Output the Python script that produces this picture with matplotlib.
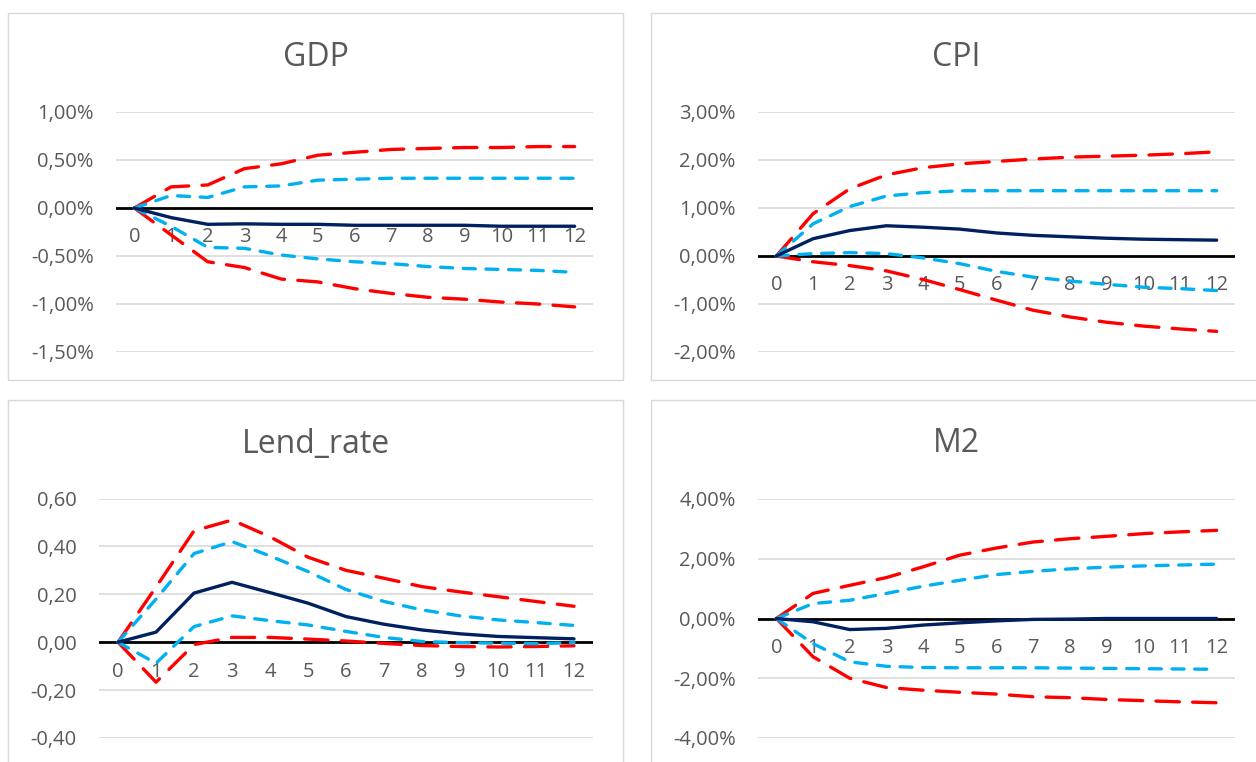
import matplotlib.pyplot as plt
from matplotlib.patches import Rectangle
from matplotlib.ticker import FuncFormatter

# Horizonte (periodos)
periodos = list(range(13))

# GDP (%)
gdp_central = [0, -0.10, -0.17, -0.165, -0.17, -0.17, -0.18, -0.18, -0.18, -0.18, -0.19, -0.19, -0.19]
gdp_blue_up = [0, 0.13, 0.11, 0.22, 0.23, 0.29, 0.30, 0.31, 0.31, 0.31, 0.31, 0.31, 0.31]
gdp_blue_lo = [0, -0.19, -0.41, -0.42, -0.49, -0.53, -0.56, -0.58, -0.61, -0.63, -0.64, -0.65, -0.67]
gdp_red_up = [0, 0.22, 0.24, 0.41, 0.46, 0.55, 0.58, 0.61, 0.62, 0.63, 0.63, 0.64, 0.64]
gdp_red_lo = [0, -0.28, -0.56, -0.62, -0.74, -0.77, -0.84, -0.89, -0.93, -0.95, -0.98, -1.00, -1.03]

# CPI (%)
cpi_central = [0, 0.36, 0.53, 0.63, 0.60, 0.56, 0.48, 0.43, 0.40, 0.37, 0.35, 0.34, 0.33]
cpi_blue_up = [0, 0.67, 1.03, 1.25, 1.32, 1.36, 1.36, 1.36, 1.36, 1.36, 1.36, 1.36, 1.36]
cpi_blue_lo = [0, 0.05, 0.07, 0.05, -0.04, -0.16, -0.32, -0.44, -0.52, -0.59, -0.65, -0.68, -0.72]
cpi_red_up = [0, 0.88, 1.40, 1.69, 1.84, 1.92, 1.97, 2.02, 2.06, 2.08, 2.10, 2.13, 2.17]
cpi_red_lo = [0, -0.12, -0.20, -0.31, -0.49, -0.70, -0.92, -1.13, -1.27, -1.38, -1.46, -1.52, -1.57]

# Lend_rate (puntos)
lend_central = [0, 0.042, 0.205, 0.25, 0.207, 0.163, 0.107, 0.075, 0.051, 0.035, 0.024, 0.019, 0.014]
lend_blue_up = [0, 0.18, 0.37, 0.42, 0.36, 0.295, 0.22, 0.17, 0.135, 0.11, 0.093, 0.082, 0.07]
lend_blue_lo = [0, -0.088, 0.065, 0.11, 0.09, 0.072, 0.045, 0.02, 0.003, -0.002, -0.004, -0.006, -0.002]
lend_red_up = [0, 0.23, 0.465, 0.51, 0.44, 0.355, 0.30, 0.267, 0.232, 0.21, 0.19, 0.17, 0.15]
lend_red_lo = [0, -0.167, -0.01, 0.02, 0.02, 0.013, 0.005, -0.005, -0.014, -0.018, -0.02, -0.018, -0.015]

# M2 (%)
m2_central = [0, -0.11, -0.37, -0.33, -0.22, -0.145, -0.08, -0.03, -0.02, 0, 0, 0, 0]
m2_blue_up = [0, 0.50, 0.61, 0.84, 1.08, 1.28, 1.47, 1.58, 1.66, 1.72, 1.76, 1.79, 1.82]
m2_blue_lo = [0, -0.84, -1.45, -1.60, -1.64, -1.65, -1.65, -1.65, -1.66, -1.67, -1.68, -1.69, -1.70]
m2_red_up = [0, 0.84, 1.11, 1.37, 1.73, 2.12, 2.36, 2.56, 2.67, 2.75, 2.84, 2.90, 2.95]
m2_red_lo = [0, -1.28, -2.00, -2.31, -2.40, -2.47, -2.53, -2.62, -2.65, -2.71, -2.75, -2.79, -2.82]

plt.rcParams['font.family'] = ['Open Sans', 'DejaVu Sans']

W, H = 1256, 762
fig = plt.figure(figsize=(W / 100, H / 100), dpi=100)
fig.patch.set_facecolor('white')

txt = '#595959'
grid_c = '#D9D9D9'


def fmt_pct(v, pos):
    return f"{v:.2f}".replace('.', ',') + '%'


def fmt_num(v, pos):
    return f"{v:.2f}".replace('.', ',')


# (titulo, series, ylim, paso, formato, caja px, area px, centro titulo)
paneles = [
    ("GDP", (gdp_central, gdp_blue_up, gdp_blue_lo, gdp_red_up, gdp_red_lo),
     (-1.5, 1.0), 0.5, fmt_pct, (8, 13, 623, 380), (116, 112, 593, 352), (316, 57)),
    ("CPI", (cpi_central, cpi_blue_up, cpi_blue_lo, cpi_red_up, cpi_red_lo),
     (-2.0, 3.0), 1.0, fmt_pct, (651, 13, 1266, 380), (758, 112, 1235, 352), (956, 57)),
    ("Lend_rate", (lend_central, lend_blue_up, lend_blue_lo, lend_red_up, lend_red_lo),
     (-0.4, 0.6), 0.2, fmt_num, (8, 400, 623, 780), (99, 498.5, 593, 738), (316, 444)),
    ("M2", (m2_central, m2_blue_up, m2_blue_lo, m2_red_up, m2_red_lo),
     (-4.0, 4.0), 2.0, fmt_pct, (651, 400, 1266, 780), (758, 499, 1235, 738), (956, 444)),
]

for titulo, series, ylim, paso, fmt, caja, area, tpos in paneles:
    central, blue_up, blue_lo, red_up, red_lo = series

    # Marco del panel
    x0, y0, x1, y1 = caja
    fig.add_artist(Rectangle((x0 / W, 1 - y1 / H), (x1 - x0) / W, (y1 - y0) / H,
                             transform=fig.transFigure, fill=False,
                             edgecolor=grid_c, linewidth=1.0))
    fig.text(tpos[0] / W, 1 - tpos[1] / H, titulo, ha='center', va='center',
             fontsize=23, color=txt)

    l, t, r, b = area
    ax = fig.add_axes([l / W, 1 - b / H, (r - l) / W, (b - t) / H])
    ax.set_facecolor('none')
    ax.set_axisbelow(True)

    ax.plot(periodos, red_up, color='#FF0000', lw=2.4, dashes=(7, 4),
            dash_capstyle='round', zorder=3)
    ax.plot(periodos, red_lo, color='#FF0000', lw=2.4, dashes=(7, 4),
            dash_capstyle='round', zorder=3)
    ax.plot(periodos, blue_up, color='#00B0F0', lw=2.4, dashes=(3.6, 3.2),
            dash_capstyle='round', zorder=3)
    ax.plot(periodos, blue_lo, color='#00B0F0', lw=2.4, dashes=(3.6, 3.2),
            dash_capstyle='round', zorder=3)
    ax.plot(periodos, central, color='#002060', lw=2.4, solid_capstyle='round', zorder=4)
    ax.axhline(0, color='black', lw=2.0, zorder=2)

    ax.set_xlim(-0.5, 12.5)
    ax.set_ylim(*ylim)
    n = int(round((ylim[1] - ylim[0]) / paso))
    ax.set_yticks([ylim[0] + i * paso for i in range(n + 1)])
    ax.yaxis.set_major_formatter(FuncFormatter(fmt))
    ax.set_xticks(periodos)
    ax.set_xticklabels([str(p) for p in periodos])

    ax.grid(axis='y', color=grid_c, lw=1.2)
    for s in ax.spines.values():
        s.set_visible(False)
    ax.spines['bottom'].set_position(('data', 0))
    ax.tick_params(axis='y', length=0, pad=16, labelsize=14.5, labelcolor=txt)
    ax.tick_params(axis='x', length=0, pad=14, labelsize=14.5, labelcolor=txt)

plt.savefig('out.png', dpi=100)
